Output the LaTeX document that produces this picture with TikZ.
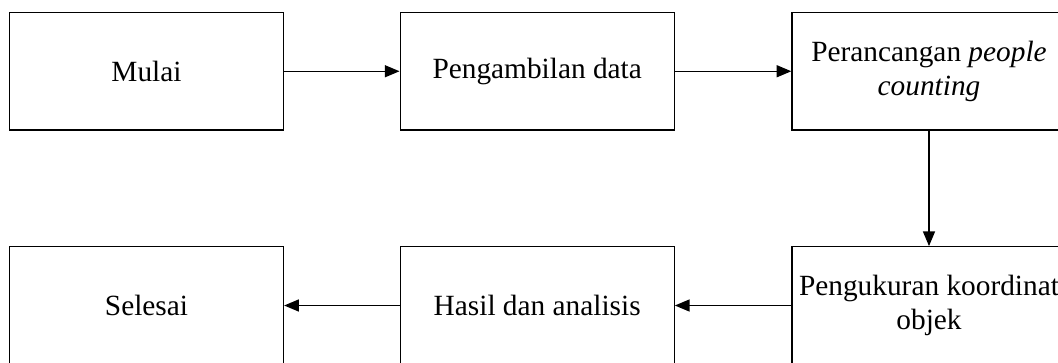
\documentclass[tikz,border=0pt]{standalone}
\usepackage{fontspec}
\setmainfont{Liberation Serif}
\usetikzlibrary{arrows.meta}
\begin{document}
\begin{tikzpicture}[x=0.75pt,y=-0.75pt,
  stepbox/.style={draw=black, line width=1pt, minimum width=274*0.75pt, minimum height=117.5*0.75pt,
    inner sep=0pt, align=center, font=\fontsize{22}{25.5}\selectfont, fill=white},
  flow/.style={draw=black, line width=1pt, -{Triangle[length=11pt,width=9pt]}}]
\useasboundingbox (0,0) rectangle (1058,362);
\clip (0,0) rectangle (1058,362);
\fill[white] (0,0) rectangle (1058,362);
\node[stepbox] (a) at (146.5,71.25) {Mulai};
\node[stepbox] (b) at (537.2,71.25) {Pengambilan data};
\node[stepbox] (c) at (929,71.25) {Perancangan \textit{people}\\\textit{counting}};
\node[stepbox] (d) at (929,305.5) {Pengukuran koordinat\\objek};
\node[stepbox] (e) at (537.2,305.5) {Hasil dan analisis};
\node[stepbox] (f) at (146.5,305.5) {Selesai};
\draw[flow] (a) -- (b);
\draw[flow] (b) -- (c);
\draw[flow] (c) -- (d);
\draw[flow] (d) -- (e);
\draw[flow] (e) -- (f);
\end{tikzpicture}
\end{document}
